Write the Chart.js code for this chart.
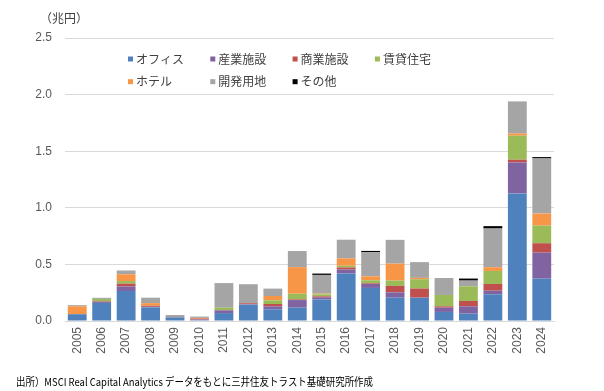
<!DOCTYPE html>
<html>
<head>
<meta charset="utf-8">
<script src="https://cdn.jsdelivr.net/npm/chart.js@4"></script>
<style>
  body { margin: 0; background: #fff; }
  #wrap { width: 604px; height: 391px; position: relative; }
</style>
</head>
<body>
<div id="wrap"><canvas id="myChart" width="604" height="391"></canvas></div>
<script>
const years = ['2005','2006','2007','2008','2009','2010','2011','2012','2013','2014',
               '2015','2016','2017','2018','2019','2020','2021','2022','2023','2024'];

// 兆円
const office     = [0.06,0.16,0.265,0.12,0.03,0.007,0.07,0.145,0.103,0.118,0.19,0.42,0.292,0.206,0.204,0.08,0.065,0.236,1.127,0.374];
const industrial = [0,0.01,0.04,0.005,0.005,0.006,0.024,0.003,0.027,0.067,0.02,0.035,0.035,0.047,0.003,0.038,0.065,0.032,0.274,0.23];
const retail     = [0,0.005,0.025,0.01,0,0.008,0.003,0.009,0.02,0.006,0.008,0.018,0.006,0.057,0.08,0.012,0.047,0.059,0.024,0.083];
const rental     = [0,0.02,0.023,0,0,0,0.02,0,0.033,0.05,0.018,0.015,0.027,0.047,0.082,0.1,0.13,0.115,0.212,0.156];
const hotel      = [0.07,0,0.06,0.023,0,0.006,0,0,0.038,0.235,0.006,0.065,0.035,0.15,0.012,0,0,0.033,0.02,0.106];
const land       = [0.01,0.01,0.033,0.048,0.018,0.012,0.218,0.168,0.065,0.142,0.165,0.165,0.212,0.21,0.139,0.15,0.05,0.342,0.283,0.487];
const other      = [0,0,0,0,0,0,0,0,0,0,0.012,0,0.012,0,0,0,0.018,0.021,0,0.012];

const seriesNames = ['オフィス','産業施設','商業施設','賃貸住宅','ホテル','開発用地','その他'];
const seriesColors = ['#4F81BD','#8064A2','#C0504D','#9BBB59','#F79646','#A5A5A5','#000000'];
const yTicks = [0, 0.5, 1.0, 1.5, 2.0, 2.5];

const unitLabel = '（兆円）';
const sourceNote = '出所）MSCI Real Capital Analytics データをもとに三井住友トラスト基礎研究所作成';

const jpFont = '"Noto Sans CJK JP", "Noto Sans", sans-serif';
const numFont = '"Liberation Sans", Arial, sans-serif';

// legend inside the plot + unit + source
const extras = {
    id: 'extras',
    afterDraw(chart) {
        const c = chart.ctx;
        c.save();
        c.textBaseline = 'middle';
        c.font = '12px ' + jpFont;
        c.fillStyle = '#404040';
        c.fillText(unitLabel, 40, 18);

        chart.data.datasets.forEach((ds, i) => {
            let col = i % 4;
            let row = Math.floor(i / 4);
            let x = 128 + col * 82.3;
            let y = 59 + row * 22.7;
            c.fillStyle = ds.backgroundColor;
            c.fillRect(x, y - 2.5, 5, 5);
            c.fillStyle = '#404040';
            c.fillText(ds.label, x + 8, y);
        });

        c.fillStyle = '#000';
        c.font = '11px ' + jpFont;
        c.fillText(sourceNote, 16, 382, 357);
        c.restore();
    }
};

const values = [office, industrial, retail, rental, hotel, land, other];

let ctx = document.getElementById('myChart').getContext('2d');
let myChart = new Chart(ctx, {
    type: 'bar',
    data: {
        labels: years,
        datasets: values.map((v, i) => ({
            label: seriesNames[i],
            data: v,
            backgroundColor: seriesColors[i],
            borderWidth: 0,
            categoryPercentage: 1,
            barPercentage: 0.77
        }))
    },
    options: {
        responsive: false,
        animation: false,
        layout: { padding: { top: 38, right: 50, left: 0, bottom: 0 } },
        plugins: {
            legend: { display: false },
            tooltip: { enabled: false }
        },
        scales: {
            x: {
                stacked: true,
                grid: { display: false, drawTicks: false },
                border: { color: '#d9d9d9' },
                ticks: {
                    color: '#595959',
                    font: { family: numFont, size: 12 },
                    maxRotation: 90,
                    minRotation: 90,
                    padding: 6,
                    autoSkip: false
                },
                afterFit: s => { s.height = 70; }
            },
            y: {
                stacked: true,
                min: 0,
                max: 2.5,
                afterBuildTicks: s => { s.ticks = yTicks.map(v => ({ value: v })); },
                grid: { color: '#d9d9d9', drawTicks: false },
                border: { display: false },
                ticks: {
                    color: '#595959',
                    font: { family: numFont, size: 12 },
                    padding: 13,
                    callback: v => v.toFixed(1)
                },
                afterFit: s => { s.width = 65; }
            }
        }
    },
    plugins: [extras]
});
</script>
</body>
</html>
